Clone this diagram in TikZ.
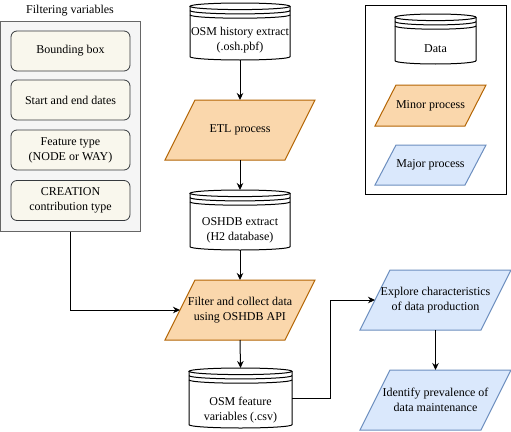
\documentclass[tikz,border=0pt]{standalone}
\usepackage{fontspec}
\setmainfont{Liberation Serif}
\usetikzlibrary{arrows.meta,calc}
\definecolor{orfill}{HTML}{FAD7AC}
\definecolor{orline}{HTML}{B46504}
\definecolor{blfill}{HTML}{DAE8FC}
\definecolor{blline}{HTML}{6C8EBF}
\definecolor{panelfill}{HTML}{F5F5F5}
\definecolor{panelline}{HTML}{666666}
\definecolor{itemfill}{HTML}{F9F7ED}
\definecolor{itemline}{HTML}{36393D}
% datastore cylinder: name, x1, y1, x2, y2
\newcommand\dbcyl[5]{%
  \pgfmathsetmacro\dbrx{(#4-#2)/2}%
  \pgfmathsetmacro\dbcx{(#2+#4)/2}%
  \pgfmathsetmacro\dbcy{(#3+#5)/2}%
  \pgfmathsetmacro\dbw{#4-#2}%
  \pgfmathsetmacro\dbh{#5-#3}%
  \draw[dbline, fill=white] (#2,#3+3.3) -- (#2,#5-3.3)
     arc[start angle=180, end angle=360, x radius=\dbrx pt, y radius=3.3pt]
     -- (#4,#3+3.3);
  \draw[dbline, fill=white] (\dbcx,#3+3.3) ellipse[x radius=\dbrx pt, y radius=3.3pt];
  \draw[dbline] (#2,#3+7.6) arc[start angle=180, end angle=360, x radius=\dbrx pt, y radius=3.3pt];
  \draw[dbline] (#2,#3+11.9) arc[start angle=180, end angle=360, x radius=\dbrx pt, y radius=3.3pt];
  \node[hidden, minimum width=\dbw pt, minimum height=\dbh pt] (#1) at (\dbcx,\dbcy) {};
}
% parallelogram: name, cx, cy, w, h, skew, style, text
\newcommand\parabox[8]{%
  \draw[#7] ({#2-#4/2+#6/2},{#3-#5/2}) -- ({#2+#4/2+#6/2},{#3-#5/2})
     -- ({#2+#4/2-#6/2},{#3+#5/2}) -- ({#2-#4/2-#6/2},{#3+#5/2}) -- cycle;
  \node[ptext, minimum width=#4pt, minimum height=#5pt] (#1) at (#2,#3) {#8};
}
\tikzset{
  hidden/.style={inner sep=0pt, outer sep=0pt},
  ptext/.style={inner sep=0pt, outer sep=0pt, align=center, font=\fontsize{12}{15}\selectfont},
  dbline/.style={draw=black, line width=1pt},
  minor/.style={draw=orline, fill=orfill, line width=1pt},
  major/.style={draw=blline, fill=blfill, line width=1pt},
  item/.style={draw=itemline, fill=itemfill, line width=0.8pt, rounded corners=6pt,
     minimum width=119pt, minimum height=40pt, inner sep=0pt, align=center,
     font=\fontsize{12}{15}\selectfont},
  arr/.style={line width=1pt, -{Stealth[length=7pt,width=6.5pt]}},
}
\begin{document}
\begin{tikzpicture}[x=1pt,y=-1pt]
\useasboundingbox (0,0) rectangle (511,431);
\fill[white] (0,0) rectangle (511,431);

% filtering panel
\node[ptext] (ftitle) at (70,11) {Filtering variables};
\node[draw=panelline, fill=panelfill, line width=1pt, minimum width=140pt, minimum height=210pt, inner sep=0pt] (panel) at (70.5,126) {};
\node[item] (bbox) at (70.5,51) {Bounding box};
\node[item] (dates) at (70.5,100) {Start and end dates};
\node[item] (ftype) at (70.5,150) {Feature type\\(NODE or WAY)};
\node[item] (ctype) at (70.5,200.5) {CREATION\\contribution type};

% main flow
\dbcyl{osm}{190}{3}{290}{60}
\node[ptext] (osmt) at (240,40.5) {OSM history extract\\(.osh.pbf)};
\parabox{etl}{240}{130}{120}{60}{30}{minor}{ETL process}
\dbcyl{oshdb}{190}{190}{290}{250}
\node[ptext] (oshdbt) at (240,230) {OSHDB extract\\(H2 database)};
\parabox{filter}{240}{310}{120}{60}{30}{minor}{Filter and collect data\\using OSHDB API}
\dbcyl{feat}{189}{368}{292}{428}
\node[ptext] (featt) at (240.5,410.5) {OSM feature\\variables (.csv)};
\parabox{explore}{435.5}{300}{121}{60}{30}{major}{Explore characteristics\\of data production}
\parabox{identify}{435.5}{400}{121}{60}{30}{major}{Identify prevalence of\\data maintenance}

% legend
\node[draw=black, line width=1pt, minimum width=141pt, minimum height=189pt, inner sep=0pt] (legend) at (435.5,99.5) {};
\dbcyl{ldata}{395}{14}{476}{64}
\node[ptext] (ldatat) at (435.5,49) {Data};
\parabox{lminor}{430.5}{105.5}{90}{41}{21}{minor}{Minor process}
\parabox{lmajor}{430.5}{165}{90}{40}{21}{major}{Major process}

% connectors
\draw[arr] (osm.south) -- (etl.north);
\draw[arr] (etl.south) -- (oshdb.north);
\draw[arr] (oshdb.south) -- (filter.north);
\draw[arr] (filter.south) -- (feat.north);
\draw[arr] (panel.south) |- (filter.west);
\draw[arr] (feat.east) -- ++(38,0) |- (explore.west);
\draw[arr] (explore.south) -- (identify.north);
\end{tikzpicture}
\end{document}
